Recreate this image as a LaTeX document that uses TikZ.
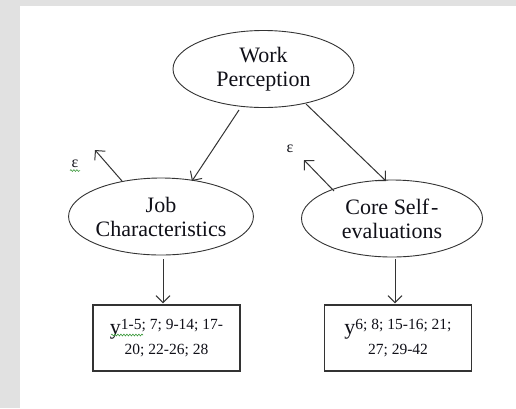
\documentclass[tikz,border=0pt]{standalone}
\usepackage{fontspec}
\setmainfont{Liberation Serif}
\usetikzlibrary{arrows.meta,calc,shapes.geometric,decorations.pathmorphing}
\definecolor{bordergray}{HTML}{E1E1E1}
\definecolor{linegray}{HTML}{333333}
\definecolor{txt}{HTML}{101018}
\definecolor{spell}{HTML}{3C9A3C}
\begin{document}
\begin{tikzpicture}[x=1pt,y=-1pt,
  ell/.style={ellipse,draw=linegray,line width=0.9pt,minimum width=181pt,minimum height=77pt,inner sep=0pt,align=center,text=txt,font=\fontsize{22}{24}\selectfont},
  obsbox/.style={draw=linegray,line width=1.3pt,minimum width=147pt,minimum height=66pt,inner sep=0pt,align=center,text=txt,font=\fontsize{15.5}{20}\selectfont},
  arr/.style={draw=linegray,line width=1pt,-{Straight Barb[length=7pt,width=14pt,line width=1pt]}},
  epslabel/.style={inner sep=0pt,text=txt,font=\fontsize{16}{16}\selectfont},
  squig/.style={draw=spell,line width=0.6pt,decorate,decoration={snake,amplitude=0.9pt,segment length=3pt}}
]
\fill[bordergray] (0,0) rectangle (516,408);
\fill[white] (20,6) rectangle (516,408);
\useasboundingbox (0,0) rectangle (516,408);

\node[ell] (WP) at (263.5,69) {Work\\Perception};
\node[ell] (JC) at (161,216.5) {Job\\Characteristics};
\node[ell] (CSE) at (392,218.5) {Core Self\hspace{2pt}-\\evaluations};

\node[obsbox] (B1) at (166.5,338) {{\fontsize{22}{20}\selectfont y}\raisebox{4.5pt}{1-5; 7; 9-14; 17-}\\20; 22-26; 28};
\node[obsbox] (B2) at (398,338) {{\fontsize{22}{20}\selectfont y}\raisebox{4.5pt}{6; 8; 15-16; 21;}\\27; 29-42};

\node[epslabel] (E1) at (75,164) {ε};
\node[epslabel] (E2) at (290,149) {ε};
\coordinate (T1) at (95,150);
\coordinate (T2) at (304,160);

\draw[arr] ($(WP.center)+(-24.5,41)$) -- ($(JC.center)+(31,-35.5)$);
\draw[arr] ($(WP.center)+(42.5,35)$) -- ($(CSE.center)+(-6,-37.5)$);
\draw[arr] ($(JC.center)+(-39,-35.5)$) -- (T1);
\draw[arr] ($(CSE.center)+(-58,-27.5)$) -- (T2);
\draw[arr] ($(JC.center)+(2,42.5)$) -- ($(B1.north)+(-3.5,-1)$);
\draw[arr] ($(CSE.center)+(3,40.5)$) -- ($(B2.north)+(-3,-1)$);

\draw[squig] ($(E1.south)+(-5,2.5)$) -- ($(E1.south)+(5,2.5)$);
\draw[squig] (111,335) -- (143,335);
\end{tikzpicture}
\end{document}
